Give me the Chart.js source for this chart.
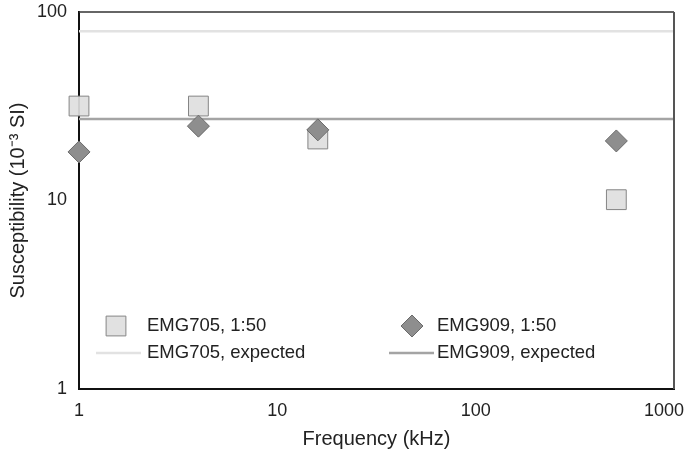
<!DOCTYPE html>
<html lang="en">
<head>
  <meta charset="UTF-8">
  <title>Susceptibility vs frequency</title>
  <script src="https://cdn.jsdelivr.net/npm/chart.js"></script>
  <style>
    html, body { margin: 0; padding: 0; background: #fff; }
    #wrap { width: 685px; height: 461px; }
  </style>
</head>
<body>
  <div id="wrap"><canvas id="chart" width="685" height="461"></canvas></div>

  <script>
    // data
    const frequencies = [1, 4, 16, 512];            // kHz
    const emg705 = [31.7, 31.7, 21.2, 10.1];         // 10^-3 SI
    const emg909 = [18.1, 24.8, 23.7, 20.7];
    const expectedRange = [1, 1000];
    const emg705Expected = 79;
    const emg909Expected = 27.1;
    const xTickLabels = [1, 10, 100, 1000];
    const yTickLabels = [1, 10, 100];

    const FONT = "'Liberation Sans', Arial, sans-serif";

    const pts = (xs, ys) => xs.map((x, i) => ({ x: x, y: ys[i] }));
    const flat = v => expectedRange.map(x => ({ x: x, y: v }));

    // top/right frame, x tick labels and the in-plot legend
    const extras = {
      id: 'extras',
      afterDraw(chart) {
        const ctx = chart.ctx;
        const a = chart.chartArea;
        ctx.save();
        ctx.strokeStyle = '#333';
        ctx.lineWidth = 1.5;
        ctx.beginPath();
        ctx.moveTo(a.left, a.top);
        ctx.lineTo(a.right, a.top);
        ctx.stroke();
        ctx.strokeStyle = '#555';
        ctx.lineWidth = 2;
        ctx.beginPath();
        ctx.moveTo(a.right, a.top);
        ctx.lineTo(a.right, a.bottom);
        ctx.stroke();

        // x tick labels (kept inside the canvas at the right end)
        const xs = chart.scales.x;
        ctx.font = '18px ' + FONT;
        ctx.fillStyle = '#222';
        ctx.textBaseline = 'middle';
        ctx.textAlign = 'center';
        xTickLabels.forEach(v => {
          const txt = String(v);
          const w = ctx.measureText(txt).width;
          let cx = xs.getPixelForValue(v);
          if (cx + w / 2 > chart.width - 1) cx = chart.width - 1 - w / 2;
          ctx.fillText(txt, cx, a.bottom + 22);
        });

        // legend
        const ds = chart.data.datasets;
        const items = [
          { d: ds[1], x: 96, mx: 116, tx: 147, y: 326 },
          { d: ds[0], x: 389, mx: 412, tx: 437, y: 326 },
          { d: ds[2], x: 96, mx: 116, tx: 147, y: 353 },
          { d: ds[3], x: 389, mx: 412, tx: 437, y: 353 }
        ];
        ctx.textAlign = 'left';
        ctx.font = '18.5px ' + FONT;
        items.forEach(it => {
          const d = it.d;
          if (d.showLine) {
            ctx.strokeStyle = d.borderColor;
            ctx.lineWidth = d.borderWidth;
            ctx.beginPath();
            ctx.moveTo(it.x, it.y);
            ctx.lineTo(it.x + 45, it.y);
            ctx.stroke();
          } else {
            ctx.fillStyle = d.backgroundColor;
            ctx.strokeStyle = d.borderColor;
            ctx.lineWidth = 1;
            Chart.helpers.drawPoint(ctx, {
              pointStyle: d.pointStyle,
              radius: d.pointRadius,
              rotation: 0,
              borderWidth: 1
            }, it.mx, it.y);
          }
          ctx.fillStyle = '#222';
          ctx.fillText(d.label, it.tx, it.y);
        });
        ctx.restore();
      }
    };

    new Chart(document.getElementById('chart'), {
      type: 'scatter',
      data: {
        datasets: [
          {
            label: 'EMG909, 1:50',
            data: pts(frequencies, emg909),
            pointStyle: 'rectRot',
            pointRadius: 11,
            pointHoverRadius: 11,
            pointBorderWidth: 1,
            backgroundColor: '#8e8e8e',
            borderColor: '#6a6a6a',
            showLine: false,
            clip: false,
            order: 0
          },
          {
            label: 'EMG705, 1:50',
            data: pts(frequencies, emg705),
            pointStyle: 'rect',
            pointRadius: 14,
            pointHoverRadius: 14,
            pointBorderWidth: 1,
            backgroundColor: 'rgba(222,222,222,0.92)',
            borderColor: '#858585',
            showLine: false,
            clip: false,
            order: 1
          },
          {
            label: 'EMG705, expected',
            data: flat(emg705Expected),
            showLine: true,
            borderColor: '#e2e2e2',
            borderWidth: 2.5,
            pointRadius: 0,
            order: 2
          },
          {
            label: 'EMG909, expected',
            data: flat(emg909Expected),
            showLine: true,
            borderColor: '#a4a4a4',
            borderWidth: 2.5,
            pointRadius: 0,
            order: 3
          }
        ]
      },
      options: {
        responsive: false,
        animation: false,
        layout: { autoPadding: false, padding: { top: 12, right: 11, left: 0, bottom: 0 } },
        plugins: {
          legend: { display: false },
          tooltip: { enabled: false }
        },
        scales: {
          x: {
            type: 'logarithmic',
            min: 1,
            max: 1000,
            grid: { display: false, drawTicks: false },
            border: { display: true, color: '#111', width: 2 },
            ticks: { display: false },
            title: {
              display: true,
              text: 'Frequency (kHz)',
              color: '#222',
              font: { family: FONT, size: 20 },
              padding: { top: 0, bottom: 10 }
            },
            afterFit(scale) { scale.height = 72; scale.paddingLeft = 0; scale.paddingRight = 0; }
          },
          y: {
            type: 'logarithmic',
            min: 1,
            max: 100,
            grid: { display: false, drawTicks: false },
            border: { display: true, color: '#111', width: 2 },
            ticks: {
              autoSkip: false,
              padding: 12,
              color: '#222',
              font: { family: FONT, size: 18 },
              callback: v => yTickLabels.includes(v) ? String(v) : ''
            },
            title: {
              display: true,
              text: 'Susceptibility (10⁻³ SI)',
              color: '#222',
              font: { family: FONT, size: 20 },
              padding: { top: 6, bottom: 0 }
            },
            afterFit(scale) { scale.width = 79; scale.paddingTop = 0; scale.paddingBottom = 0; }
          }
        }
      },
      plugins: [extras]
    });
  </script>
</body>
</html>
